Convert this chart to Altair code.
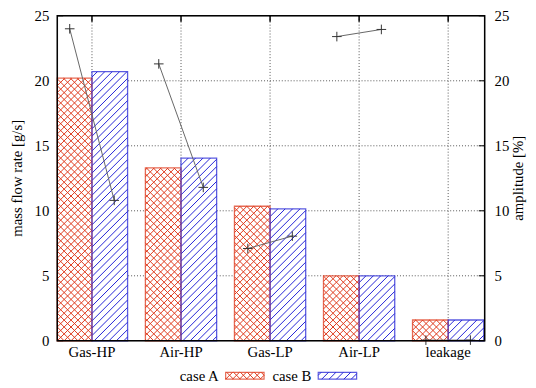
import math
import altair as alt
import pandas as pd

# ---------------- data ----------------
categories = ["Gas-HP", "Air-HP", "Gas-LP", "Air-LP", "leakage"]
flow_case_a = [20.2, 13.3, 10.35, 5.0, 1.6]
flow_case_b = [20.7, 14.05, 10.15, 5.0, 1.6]
amp_case_a = [24.0, 21.3, 7.1, 23.4, 0.05]
amp_case_b = [10.8, 11.8, 8.05, 23.95, 0.05]
series_names = ["case A", "case B"]
y_ticks = [0, 5, 10, 15, 20, 25]
y_title = "mass flow rate [g/s]"
y2_title = "amplitude [%]"

# ---------------- layout / style ----------------
W, H = 434, 330
X0, X1 = -0.39, 4.41
YMAX = 25
PXX = W / (X1 - X0)
PXY = H / YMAX
RED = "#de3a1c"
BLUE = "#2424d6"
FONT = "Liberation Serif"
FS = 15
BAR_HALF = 0.4
AMP_OFF = 0.25

xscale = alt.Scale(domain=[X0, X1], nice=False, zero=False)
yscale = alt.Scale(domain=[0, YMAX], nice=False, zero=False)
colscale = alt.Scale(domain=series_names, range=[RED, BLUE])


def hatch_uv(u0, u1, v0, v1, fam, s):
    segs = []
    if fam == "/":
        kmin = math.ceil((v0 - u1) / s)
        kmax = math.floor((v1 - u0) / s)
        for k in range(kmin, kmax + 1):
            c = k * s
            a = max(u0, v0 - c)
            b = min(u1, v1 - c)
            if b - a > 0.3:
                segs.append((a, a + c, b, b + c))
    else:
        kmin = math.ceil((v0 + u0) / s)
        kmax = math.floor((v1 + u1) / s)
        for k in range(kmin, kmax + 1):
            c = k * s
            a = max(u0, c - v1)
            b = min(u1, c - v0)
            if b - a > 0.3:
                segs.append((a, c - a, b, c - b))
    return segs


PATTERNS = {"case A": (["/", "\\"], 7.0), "case B": (["/"], 7.5)}

# bars table
bar_rows = []
for i, cat in enumerate(categories):
    bar_rows.append(dict(cat=cat, series="case A", x0=max(i - BAR_HALF, X0), x1=i,
                         base=0.0, value=flow_case_a[i]))
    bar_rows.append(dict(cat=cat, series="case B", x0=i, x1=min(i + BAR_HALF, X1),
                         base=0.0, value=flow_case_b[i]))
bars = pd.DataFrame(bar_rows)

# hatch lines for bars (in data units)
hatch_rows = []
for r in bar_rows:
    fams, s = PATTERNS[r["series"]]
    u0 = (r["x0"] - X0) * PXX
    u1 = (r["x1"] - X0) * PXX
    v1 = r["value"] * PXY
    for fam in fams:
        for a, av, b, bv in hatch_uv(u0, u1, 0.0, v1, fam, s):
            hatch_rows.append(dict(series=r["series"],
                                   hx=a / PXX + X0, hy=av / PXY,
                                   hx2=b / PXX + X0, hy2=bv / PXY))
hatch = pd.DataFrame(hatch_rows)

# amplitude table
amp_rows = []
for i, cat in enumerate(categories):
    amp_rows.append(dict(cat=cat, series="case A", ax=i - AMP_OFF, amp=amp_case_a[i]))
    amp_rows.append(dict(cat=cat, series="case B", ax=i + AMP_OFF, amp=amp_case_b[i]))
amp = pd.DataFrame(amp_rows)

# legend (pixel coordinates, plot-relative)
leg_text_right = [164, 258]
leg_sw_left = [171, 265]
SW_W = 39
SW_Y0, SW_Y1 = 362, 369
LEG_BASE = 371
leg_rows = []
leg_hatch_rows = []
for k, name in enumerate(series_names):
    sx0 = leg_sw_left[k]
    sx1 = sx0 + SW_W
    leg_rows.append(dict(series=name, label=name, tx=leg_text_right[k], ty=LEG_BASE,
                         sx0=sx0, sx1=sx1, sy0=SW_Y0, sy1=SW_Y1))
    fams, s = PATTERNS[name]
    for fam in fams:
        for a, av, b, bv in hatch_uv(sx0, sx1, H - SW_Y1, H - SW_Y0, fam, s):
            leg_hatch_rows.append(dict(series=name, lx=a, ly=H - av, lx2=b, ly2=H - bv))
legend_df = pd.DataFrame(leg_rows)
leg_hatch = pd.DataFrame(leg_hatch_rows)

ytick_df = pd.DataFrame({"v": y_ticks, "lab": [str(v) for v in y_ticks]})
ygrid_df = pd.DataFrame({"v": [v for v in y_ticks if 0 < v < YMAX]})
xtick_df = pd.DataFrame({"c": list(range(len(categories))), "lab": categories})
titles_df = pd.DataFrame({"t": [y_title, y2_title], "tx": [-36, W + 39], "ty": [165, 165]})

NOAX = None


def X(field):
    return alt.X(field, scale=xscale, axis=NOAX)


def Y(field):
    return alt.Y(field, scale=yscale, axis=NOAX)


# ---------------- layers ----------------
ygrid = alt.Chart(ygrid_df).mark_rule(color="#555", strokeWidth=1, strokeDash=[1, 2]).encode(
    y=Y("v:Q"), x=alt.value(0), x2=alt.value(W))
xgrid = alt.Chart(xtick_df).mark_rule(color="#555", strokeWidth=1, strokeDash=[1, 2]).encode(
    x=X("c:Q"), y=alt.value(0), y2=alt.value(H))

left_ticks = alt.Chart(ytick_df).mark_rule(color="black", strokeWidth=1).encode(
    y=Y("v:Q"), x=alt.value(0), x2=alt.value(6))
right_ticks = alt.Chart(ytick_df).mark_rule(color="black", strokeWidth=1).encode(
    y=Y("v:Q"), x=alt.value(W - 6), x2=alt.value(W))
top_ticks = alt.Chart(xtick_df).mark_rule(color="black", strokeWidth=1.5).encode(
    x=X("c:Q"), y=alt.value(0), y2=alt.value(6))

bars_fill = alt.Chart(bars).mark_rect(fill="white", strokeWidth=0).encode(
    x=X("x0:Q"), x2="x1:Q", y=Y("value:Q"), y2="base:Q")

hatch_layer = alt.Chart(hatch).mark_rule(strokeWidth=1).encode(
    x=X("hx:Q"), x2="hx2:Q", y=Y("hy:Q"), y2="hy2:Q",
    color=alt.Color("series:N", scale=colscale, legend=None))

bars_outline = alt.Chart(bars).mark_rect(fill="transparent", strokeWidth=1.3,
                                         strokeOpacity=0.75).encode(
    x=X("x0:Q"), x2="x1:Q", y=Y("value:Q"), y2="base:Q",
    stroke=alt.Stroke("series:N", scale=colscale, legend=None))

border = alt.Chart(pd.DataFrame({"a": [0]})).mark_rect(
    fill="transparent", stroke="black", strokeWidth=1.5).encode(
    x=alt.value(0), x2=alt.value(W), y=alt.value(0), y2=alt.value(H))

ylabels_l = alt.Chart(ytick_df).mark_text(
    align="right", baseline="middle", font=FONT, fontSize=FS, color="black", dy=0.5).encode(
    y=Y("v:Q"), x=alt.value(-8), text="lab:N")
ylabels_r = alt.Chart(ytick_df).mark_text(
    align="left", baseline="middle", font=FONT, fontSize=FS, color="black", dy=0.5).encode(
    y=Y("v:Q"), x=alt.value(W + 10), text="lab:N")
xlabels = alt.Chart(xtick_df).mark_text(
    align="center", baseline="alphabetic", font=FONT, fontSize=FS, color="black").encode(
    x=X("c:Q"), y=alt.value(H + 16), text="lab:N")
titles = alt.Chart(titles_df).mark_text(
    align="center", baseline="alphabetic", font=FONT, fontSize=FS, color="black",
    angle=270).encode(
    x=alt.X("tx:Q", scale=None, axis=NOAX), y=alt.Y("ty:Q", scale=None, axis=NOAX),
    text="t:N")

leg_text = alt.Chart(legend_df).mark_text(
    align="right", baseline="alphabetic", font=FONT, fontSize=FS, color="black").encode(
    x=alt.X("tx:Q", scale=None, axis=NOAX), y=alt.Y("ty:Q", scale=None, axis=NOAX),
    text="label:N")
leg_fill = alt.Chart(legend_df).mark_rect(fill="white", strokeWidth=0).encode(
    x=alt.X("sx0:Q", scale=None, axis=NOAX), x2="sx1:Q",
    y=alt.Y("sy0:Q", scale=None, axis=NOAX), y2="sy1:Q")
leg_hatch_layer = alt.Chart(leg_hatch).mark_rule(strokeWidth=1).encode(
    x=alt.X("lx:Q", scale=None, axis=NOAX), x2="lx2:Q",
    y=alt.Y("ly:Q", scale=None, axis=NOAX), y2="ly2:Q",
    color=alt.Color("series:N", scale=colscale, legend=None))
leg_outline = alt.Chart(legend_df).mark_rect(fill="transparent", strokeWidth=1.2,
                                             strokeOpacity=0.75).encode(
    x=alt.X("sx0:Q", scale=None, axis=NOAX), x2="sx1:Q",
    y=alt.Y("sy0:Q", scale=None, axis=NOAX), y2="sy1:Q",
    stroke=alt.Stroke("series:N", scale=colscale, legend=None))

amp_line = alt.Chart(amp).mark_line(color="#666", strokeWidth=1).encode(
    x=X("ax:Q"), y=Y("amp:Q"), detail="cat:N")
amp_pts = alt.Chart(amp).mark_point(shape="M-1,0L1,0M0,-1L0,1", filled=False, size=95,
                                    color="#333", strokeWidth=1, opacity=1).encode(
    x=X("ax:Q"), y=Y("amp:Q"))

chart = alt.layer(
    ygrid, xgrid, left_ticks, right_ticks, top_ticks,
    bars_fill, hatch_layer, bars_outline,
    amp_line, amp_pts, border,
    ylabels_l, ylabels_r, xlabels, titles,
    leg_text, leg_fill, leg_hatch_layer, leg_outline,
).properties(
    width=W, height=H, autosize="none",
    padding={"left": 50, "top": 5, "right": 44, "bottom": 43},
).configure_view(strokeWidth=0).configure(font=FONT)

chart.save("out.html", embed_options={"renderer": "svg", "actions": False})
